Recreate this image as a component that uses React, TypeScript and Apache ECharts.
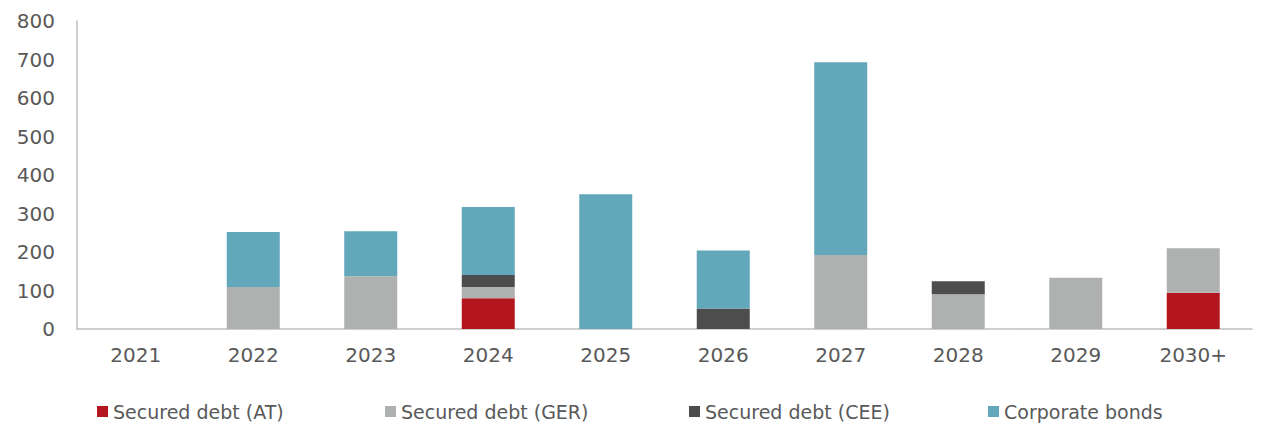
import React, { useEffect, useRef } from "react";
import * as echarts from "echarts";

const categories = ["2021", "2022", "2023", "2024", "2025", "2026", "2027", "2028", "2029", "2030+"];
const securedAT = [0, 0, 0, 80, 0, 0, 0, 0, 0, 94];
const securedGER = [0, 109, 137, 29, 0, 0, 192, 90, 133, 116];
const securedCEE = [0, 0, 0, 31, 0, 53, 0, 34, 0, 0];
const corporateBonds = [0, 143, 117, 177, 350, 151, 501, 0, 0, 0];
const yTicks = [0, 100, 200, 300, 400, 500, 600, 700, 800];

const seriesNames = ["Secured debt (AT)", "Secured debt (GER)", "Secured debt (CEE)", "Corporate bonds"];
const seriesColors = ["#B3161F", "#AFB1B1", "#4D4D4D", "#62A7BA"];
const seriesData = [securedAT, securedGER, securedCEE, corporateBonds];
const legendLefts = [97, 385, 689, 988];

export default function App() {
  const ref = useRef<HTMLDivElement>(null);
  useEffect(() => {
    if (!ref.current) return;
    const chart = echarts.init(ref.current, null, { renderer: "svg" });
    const font = "'DejaVu Sans', Verdana, sans-serif";
    chart.setOption({
      animation: false,
      textStyle: { fontFamily: font },
      grid: { left: 77, right: 14, top: 21, bottom: 96, containLabel: false },
      legend: seriesNames.map((n, i) => ({
        data: [n],
        left: legendLefts[i],
        top: 402,
        padding: 0,
        itemWidth: 11,
        itemHeight: 11,
        icon: "rect",
        textStyle: { fontFamily: font, fontSize: 19, color: "#595959" },
        selectedMode: false,
      })),
      xAxis: {
        type: "category",
        data: categories,
        axisLine: { lineStyle: { color: "#BFBFBF", width: 1.5 } },
        axisTick: { show: false },
        axisLabel: { fontFamily: font, fontSize: 20, color: "#595959", margin: 16 },
      },
      yAxis: {
        type: "value",
        min: yTicks[0],
        max: yTicks[yTicks.length - 1],
        interval: 100,
        axisLine: { show: true, lineStyle: { color: "#BFBFBF", width: 1.5 } },
        axisTick: { show: false },
        splitLine: { show: false },
        axisLabel: { fontFamily: font, fontSize: 20, color: "#595959", margin: 22 },
      },
      series: seriesNames.map((n, i) => ({
        name: n,
        type: "bar",
        stack: "total",
        barWidth: 53,
        data: seriesData[i],
        itemStyle: { color: seriesColors[i] },
      })),
    });
    return () => chart.dispose();
  }, []);
  return (
    <div
      ref={ref}
      style={{ position: "absolute", left: 0, top: 0, width: 1266, height: 425, background: "#fff" }}
    />
  );
}
